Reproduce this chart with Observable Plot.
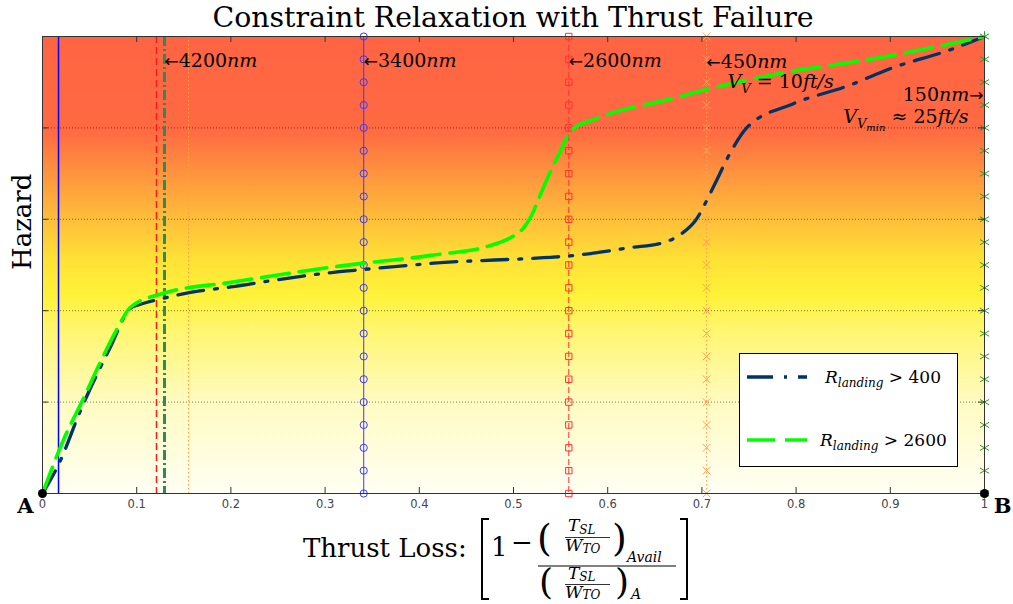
<!DOCTYPE html>
<html><head><meta charset="utf-8">
<script src="https://cdn.jsdelivr.net/npm/d3@7"></script>
<script src="https://cdn.jsdelivr.net/npm/@observablehq/plot@0.6"></script>
<style>
html,body{margin:0;padding:0;background:#fff;}
#page{position:relative;width:1013px;height:604px;overflow:hidden;font-family:"DejaVu Serif",serif;}
#title{position:absolute;left:42px;width:942px;top:0;text-align:center;font-size:28.4px;line-height:36px;color:#000;white-space:nowrap;}
#chart{position:absolute;left:0;top:30px;}
#legend{position:absolute;left:739px;top:353px;overflow:visible;}
#xlabel{position:absolute;left:0;top:500px;}
</style></head><body>
<div id="page">
  <div id="title">Constraint Relaxation with Thrust Failure</div>
  <div id="chart"></div>
  <svg id="legend" width="219" height="114" font-family="DejaVu Serif"></svg>
  <svg id="xlabel" width="1013" height="104" font-family="DejaVu Serif">
    <text x="303" y="57" font-size="26" font-family="DejaVu Serif">Thrust Loss:</text>
    <path d="M489,19H482V99H489" fill="none" stroke="#000" stroke-width="2"/>
    <text x="491" y="56" font-size="26">1</text>
    <text x="511" y="51" font-size="26">−</text>
    <text x="537" y="51" font-size="38">(</text>
    <text x="568" y="31" font-size="17" font-style="italic">T<tspan font-size="12" dy="3">SL</tspan></text>
    <line x1="565" x2="610" y1="37.5" y2="37.5" stroke="#000" stroke-width="0.8"/>
    <text x="565" y="51" font-size="17" font-style="italic">W<tspan font-size="12" dy="2">TO</tspan></text>
    <text x="612" y="51" font-size="38">)</text>
    <text x="627" y="62" font-size="14" font-style="italic">Avail</text>
    <line x1="538" x2="676" y1="66" y2="66" stroke="#000" stroke-width="1.2"/>
    <text x="539" y="94" font-size="36">(</text>
    <text x="568" y="79" font-size="17" font-style="italic">T<tspan font-size="12" dy="2">SL</tspan></text>
    <line x1="565" x2="610" y1="84.5" y2="84.5" stroke="#000" stroke-width="0.8"/>
    <text x="565" y="98" font-size="17" font-style="italic">W<tspan font-size="12" dy="1">TO</tspan></text>
    <text x="615" y="94" font-size="36">)</text>
    <text x="631" y="99" font-size="14" font-style="italic">A</text>
    <path d="M680,19H687V99H680" fill="none" stroke="#000" stroke-width="2"/>
  </svg>
</div>
<script>
// ---------- data ----------
const xTicks = [0, 0.1, 0.2, 0.3, 0.4, 0.5, 0.6, 0.7, 0.8, 0.9, 1];
const xTickLabels = ["0", "0.1", "0.2", "0.3", "0.4", "0.5", "0.6", "0.7", "0.8", "0.9", "1"];
const yGrid = [0.2, 0.4, 0.6, 0.8];

const seriesLabels = ["400", "2600"];   // R_landing > ...
const r400X = [0, 0.019, 0.04, 0.072, 0.093, 0.104, 0.128, 0.157, 0.2, 0.25, 0.309, 0.34, 0.4225, 0.532, 0.56, 0.624, 0.659, 0.68, 0.693, 0.712, 0.73, 0.748, 0.797, 0.855, 0.903, 0.961, 1];
const r400Y = [0, 0.072, 0.18, 0.32, 0.405, 0.414, 0.427, 0.44, 0.452, 0.468, 0.484, 0.49, 0.505, 0.516, 0.52, 0.538, 0.549, 0.571, 0.597, 0.67, 0.745, 0.801, 0.853, 0.892, 0.932, 0.969, 1];
const r2600X = [0, 0.022, 0.044, 0.062, 0.08, 0.093, 0.128, 0.2, 0.313, 0.412, 0.476, 0.497, 0.511, 0.518, 0.529, 0.536, 0.55, 0.561, 0.589, 0.674, 0.688, 0.783, 0.89, 1];
const r2600Y = [0, 0.116, 0.21, 0.29, 0.363, 0.407, 0.438, 0.462, 0.497, 0.521, 0.543, 0.56, 0.582, 0.604, 0.656, 0.69, 0.75, 0.794, 0.821, 0.867, 0.875, 0.919, 0.954, 1];

const refLineX = [0.017, 0.121, 0.1295, 0.155, 0.341, 0.5587, 0.705, 1.0];
const markerY = [0, 0.05, 0.1, 0.15, 0.2, 0.25, 0.3, 0.35, 0.4, 0.45, 0.5, 0.55, 0.6, 0.65, 0.7, 0.75, 0.8, 0.85, 0.9, 0.95, 1];
const markedLineX = [0.341, 0.5587, 0.705, 1.0];

const annotLabels = ["4200", "3400", "2600", "450", "150"];
const annotX = [0.1295, 0.341, 0.5587, 0.705, 1.0];
const annotY = [0.947, 0.947, 0.947, 0.945, 0.873];
const annotPointsRight = [false, false, false, false, true];

const speedLabels = ["V_V = 10ft/s", "V_Vmin ≈ 25ft/s"];
const speedX = [0.705, 1.0];
const speedY = [0.9, 0.823];

const endLabels = ["A", "B"];
const endX = [0, 1];

// ---------- styles ----------
const bgOffsets = [0, 0.206, 0.315, 0.40, 0.49, 0.567, 0.643, 0.796, 1];
const bgColors = ["#ff6442", "#ff6a42", "#ff9a3e", "#ffbe3a", "#ffe236", "#fff23a", "#fff670", "#fffbc0", "#fffff4"];
const refStyles = [
  {stroke: "#0000ff", w: 1.5, dash: null},
  {stroke: "#ff1a1a", w: 1.5, dash: "7,4"},
  {stroke: "#2e8b57", w: 3, dash: "10,3,2,3"},
  {stroke: "#ffa03c", w: 1, dash: "1.5,2.5"},
  {stroke: "#3a3aff", w: 1, dash: null},
  {stroke: "#ff3333", w: 1, dash: "6,3"},
  {stroke: "#ffa050", w: 1, dash: "1.5,2.5"},
  {stroke: "#2a9a2a", w: 1, dash: null}
];
const markerStyles = [
  {symbol: "circle", stroke: "#3a3aff", r: 3.6},
  {symbol: "square", stroke: "#ff3333", r: 3.6},
  {symbol: "times", stroke: "#ffa050", r: 3.6},
  {symbol: "asterisk", stroke: "#2a9a2a", r: 5}
];
const seriesStyles = [
  {stroke: "#003366", w: 3.3, dash: "26,11,3,11"},
  {stroke: "#00ff00", w: 3.6, dash: "28,10"}
];
const serif = "DejaVu Serif";

// ---------- tables ----------
const r400 = r400X.map((x, i) => ({x, y: r400Y[i]}));
const r2600 = r2600X.map((x, i) => ({x, y: r2600Y[i]}));
const annots = annotLabels.map((l, i) => ({
  x: annotX[i], y: annotY[i], right: annotPointsRight[i],
  text: annotPointsRight[i] ? l + "nm→" : "←" + l + "nm"
}));
const speeds = speedLabels.map((t, i) => ({text: t, x: speedX[i], y: speedY[i]}));
const ends = endLabels.map((t, i) => ({text: t, x: endX[i], y: 0}));
const tickRows = xTicks.map((x, i) => ({x, label: xTickLabels[i]}));

const bgDefs = () => {
  const g = document.createElementNS("http://www.w3.org/2000/svg", "g");
  const stops = bgOffsets.map((o, i) => `<stop offset="${o}" stop-color="${bgColors[i]}"/>`).join("");
  g.innerHTML = `<defs><linearGradient id="hazardBg" x1="0" y1="0" x2="0" y2="1">${stops}</linearGradient></defs>`;
  return g;
};

const marks = [
  bgDefs,
  Plot.frame({fill: "url(#hazardBg)", stroke: "none"}),
  Plot.ruleY(yGrid, {stroke: "#000", strokeOpacity: 0.65, strokeWidth: 0.8, strokeDasharray: "1,2"}),
  ...refLineX.map((x, i) => Plot.ruleX([x], {stroke: refStyles[i].stroke, strokeWidth: refStyles[i].w, strokeDasharray: refStyles[i].dash})),
  ...markedLineX.map((x, i) => Plot.dot(markerY.map(y => ({x, y})), {
    x: "x", y: "y", symbol: markerStyles[i].symbol, r: markerStyles[i].r,
    stroke: markerStyles[i].stroke, fill: "none", strokeWidth: 1
  })),
  Plot.line(r400, {x: "x", y: "y", curve: "monotone-x", stroke: seriesStyles[0].stroke, strokeWidth: seriesStyles[0].w, strokeDasharray: seriesStyles[0].dash}),
  Plot.line(r2600, {x: "x", y: "y", curve: "monotone-x", stroke: seriesStyles[1].stroke, strokeWidth: seriesStyles[1].w, strokeDasharray: seriesStyles[1].dash}),
  // inward ticks
  Plot.ruleX(xTicks, {y1: 0, y2: 0, insetTop: -6, stroke: "#333"}),
  Plot.ruleX(xTicks, {y1: 1, y2: 1, insetBottom: -6, stroke: "#333"}),
  Plot.ruleY(yGrid, {x1: 0, x2: 0, insetRight: -6, stroke: "#333"}),
  Plot.ruleY(yGrid, {x1: 1, x2: 1, insetLeft: -6, stroke: "#333"}),
  Plot.frame({stroke: "#333", strokeWidth: 1}),
  // tick labels
  Plot.text(tickRows, {x: "x", text: "label", frameAnchor: "bottom", lineAnchor: "top", dy: 6, fontSize: 11.5, fontFamily: "DejaVu Sans", fill: "#444"}),
  // annotations
  Plot.text(annots.filter(d => !d.right), {x: "x", y: "y", text: "text", textAnchor: "start", fontSize: 19, fontFamily: serif, fill: "#000"}),
  Plot.text(annots.filter(d => d.right), {x: "x", y: "y", text: "text", textAnchor: "end", dx: -1, fontSize: 19, fontFamily: serif, fill: "#000"}),
  Plot.text(speeds.slice(0, 1), {x: "x", y: "y", text: "text", textAnchor: "start", dx: 21, fontSize: 19, fontFamily: serif, fill: "#000"}),
  Plot.text(speeds.slice(1), {x: "x", y: "y", text: "text", textAnchor: "end", dx: -16, fontSize: 19, fontFamily: serif, fill: "#000"}),
  // endpoints
  Plot.dot(ends, {x: "x", y: "y", r: 4.5, fill: "#000", stroke: "none"}),
  Plot.text(ends.slice(0, 1), {x: "x", y: "y", text: "text", dx: -17, dy: 13, fontSize: 21, fontWeight: "bold", fontFamily: serif, fill: "#000"}),
  Plot.text(ends.slice(1), {x: "x", y: "y", text: "text", dx: 18, dy: 13, fontSize: 21, fontWeight: "bold", fontFamily: serif, fill: "#000"}),
  // y label
  Plot.text(["Hazard"], {text: d => d, frameAnchor: "left", rotate: -90, dx: -20, dy: 5, fontSize: 26, fontFamily: serif, fill: "#000"})
];

const chart = Plot.plot({
  width: 1013, height: 493,
  marginTop: 6, marginBottom: 30, marginLeft: 42, marginRight: 29,
  style: {background: "transparent", overflow: "visible"},
  x: {domain: [0, 1], axis: null},
  y: {domain: [0, 1], axis: null},
  marks
});
document.getElementById("chart").appendChild(chart);

// rich (math-like) text
const rich = {};
annots.forEach(a => {
  const lab = a.text.replace(/[←→]/g, "").replace("nm", "");
  const arrow = `<tspan font-family="DejaVu Sans" font-size="17">${a.right ? "→" : "←"}</tspan>`;
  const body = `${lab}<tspan font-style="italic">nm</tspan>`;
  rich[a.text] = a.right ? body + arrow : arrow + body;
});
rich[speedLabels[0]] = `<tspan font-style="italic">V</tspan><tspan font-style="italic" font-size="13" dy="5">V</tspan><tspan dy="-5"> = 10</tspan><tspan font-style="italic">ft/s</tspan>`;
rich[speedLabels[1]] = `<tspan font-style="italic">V</tspan><tspan font-style="italic" font-size="13" dy="5">V</tspan><tspan font-style="italic" font-size="10" dy="3">min</tspan><tspan dy="-8"> ≈ 25</tspan><tspan font-style="italic">ft/s</tspan>`;
d3.select(chart).selectAll("text").each(function () {
  const t = this.textContent;
  if (rich[t]) this.innerHTML = rich[t];
});

// legend
const legend = d3.select("#legend");
legend.append("rect").attr("x", 0.5).attr("y", 0.5).attr("width", 218).attr("height", 113).attr("fill", "#fff").attr("stroke", "#000");
const legendRows = [24, 87];
const legendTextX = [86, 81];
seriesLabels.forEach((lab, i) => {
  legend.append("line").attr("x1", 8).attr("x2", 68).attr("y1", legendRows[i]).attr("y2", legendRows[i])
    .attr("stroke", seriesStyles[i].stroke).attr("stroke-width", seriesStyles[i].w).attr("stroke-dasharray", seriesStyles[i].dash);
  legend.append("text").attr("x", legendTextX[i]).attr("y", legendRows[i] + 6).attr("font-size", 17)
    .html(`<tspan font-style="italic">R</tspan><tspan font-style="italic" font-size="12" dy="4">landing</tspan><tspan dy="-4"> &gt; ${lab}</tspan>`);
});
</script>
</body></html>
